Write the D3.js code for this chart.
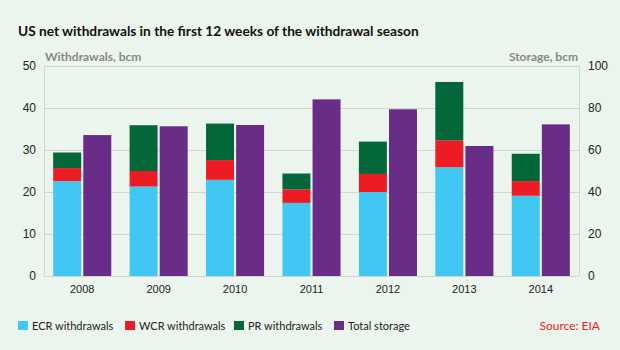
<!DOCTYPE html>
<html>
<head>
<meta charset="utf-8">
<title>US net withdrawals</title>
<style>
  body { margin: 0; background: #ebf5ee; }
  svg { font-family: Lato, "Open Sans", sans-serif; }
  .grid line { stroke: #cdd8d0; stroke-width: 1; }
  .tick text { fill: #222; font-size: 12px; }
</style>
</head>
<body>
<div id="chart"></div>
<script src="https://d3js.org/d3.v7.min.js"></script>
<script>
var years = ["2008", "2009", "2010", "2011", "2012", "2013", "2014"];
var ecr = [22.6, 21.3, 22.9, 17.4, 20.0, 25.9, 19.1];
var wcr = [3.1, 3.7, 4.7, 3.2, 4.3, 6.4, 3.5];
var pr = [3.7, 10.9, 8.7, 3.8, 7.7, 13.9, 6.5];
var storage = [67.1, 71.3, 71.9, 84.1, 79.4, 61.9, 72.2];
var leftTicks = [0, 10, 20, 30, 40, 50];
var rightTicks = [0, 20, 40, 60, 80, 100];

var seriesNames = ["ECR withdrawals", "WCR withdrawals", "PR withdrawals", "Total storage"];
var colors = ["#41c8f2", "#ed1c24", "#04673a", "#692c87"];

var W = 620, H = 350;
var plotL = 44, plotR = 579, plotT = 66, plotB = 276;

var svg = d3.select("#chart").append("svg")
  .attr("width", W).attr("height", H);

svg.append("rect").attr("width", W).attr("height", H).attr("fill", "#ebf5ee");

var x = d3.scaleBand().domain(years).range([plotL, plotR])
  .paddingInner(0.24).paddingOuter(0.12);
var x1 = d3.scaleBand().domain(["w", "s"]).range([0, x.bandwidth()]).paddingInner(0.07);
var yL = d3.scaleLinear().domain([0, 50]).range([plotB, plotT]);
var yR = d3.scaleLinear().domain([0, 100]).range([plotB, plotT]);

// grid
var grid = svg.append("g").attr("class", "grid");
grid.selectAll("line.h").data(leftTicks).enter().append("line")
  .attr("class", "h")
  .attr("x1", plotL).attr("x2", plotR)
  .attr("y1", d => yL(d) + 0.5).attr("y2", d => yL(d) + 0.5);
grid.append("line").attr("x1", plotL + 0.5).attr("x2", plotL + 0.5).attr("y1", plotT).attr("y2", plotB);
grid.append("line").attr("x1", plotR + 0.5).attr("x2", plotR + 0.5).attr("y1", plotT).attr("y2", plotB);

// stacked withdrawals
var rows = years.map((y, i) => ({year: y, ecr: ecr[i], wcr: wcr[i], pr: pr[i]}));
var stack = d3.stack().keys(["ecr", "wcr", "pr"])(rows);

svg.append("g").selectAll("g").data(stack).enter().append("g")
  .attr("fill", (d, i) => colors[i])
  .selectAll("rect").data(d => d).enter().append("rect")
  .attr("x", d => x(d.data.year) + x1("w"))
  .attr("width", x1.bandwidth())
  .attr("y", d => yL(d[1]))
  .attr("height", d => yL(d[0]) - yL(d[1]));

// storage bars
svg.append("g").selectAll("rect").data(storage).enter().append("rect")
  .attr("fill", colors[3])
  .attr("x", (d, i) => x(years[i]) + x1("s"))
  .attr("width", x1.bandwidth())
  .attr("y", d => yR(d))
  .attr("height", d => yR(0) - yR(d));

// axes
var axL = svg.append("g").attr("transform", "translate(" + plotL + ",0)")
  .call(d3.axisLeft(yL).tickValues(leftTicks).tickSize(0).tickPadding(8));
axL.select(".domain").remove();
var axR = svg.append("g").attr("transform", "translate(" + plotR + ",0)")
  .call(d3.axisRight(yR).tickValues(rightTicks).tickSize(0).tickPadding(9));
axR.select(".domain").remove();
var axX = svg.append("g").attr("transform", "translate(0," + plotB + ")")
  .call(d3.axisBottom(x).tickSize(0).tickPadding(9));
axX.select(".domain").remove();
axX.selectAll("text").style("font-size", "11px");

// titles
svg.append("text").attr("x", 18).attr("y", 36)
  .style("font-size", "13.7px").style("font-weight", "bold").attr("fill", "#111")
  .text("US net withdrawals in the first 12 weeks of the withdrawal season");
svg.append("text").attr("x", plotL + 1).attr("y", 61)
  .style("font-size", "12px").style("font-weight", "bold").attr("fill", "#888")
  .text("Withdrawals, bcm");
svg.append("text").attr("x", plotR - 1).attr("y", 61).attr("text-anchor", "end")
  .style("font-size", "12px").style("font-weight", "bold").attr("fill", "#888")
  .text("Storage, bcm");

// legend
var legX = [18, 125, 234, 334];
var leg = svg.append("g").selectAll("g").data(seriesNames).enter().append("g")
  .attr("transform", (d, i) => "translate(" + legX[i] + ",320)");
leg.append("rect").attr("width", 10).attr("height", 9).attr("y", 1)
  .attr("fill", (d, i) => colors[i]);
leg.append("text").attr("x", 14).attr("y", 10)
  .style("font-size", "11px").attr("fill", "#222").text(d => d);

svg.append("text").attr("x", 600).attr("y", 330).attr("text-anchor", "end")
  .style("font-size", "12px").attr("fill", "#ed1c24").text("Source: EIA");
</script>
</body>
</html>
